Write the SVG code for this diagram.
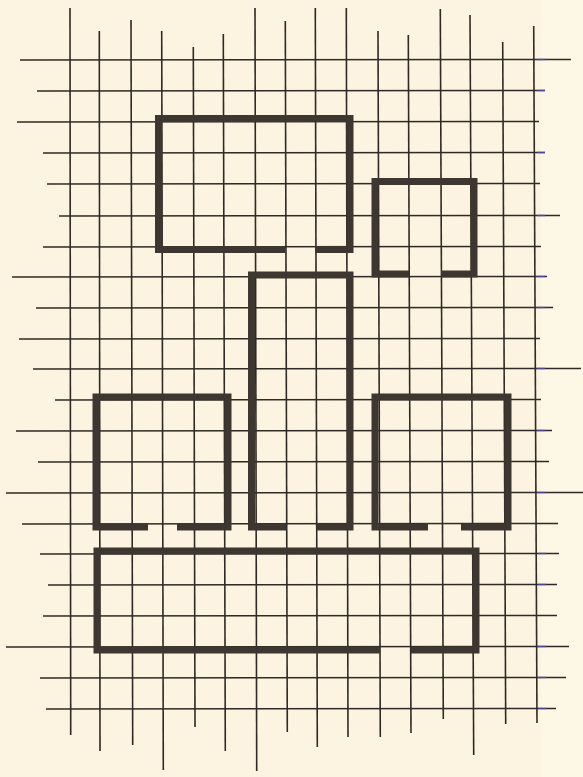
<svg xmlns="http://www.w3.org/2000/svg" width="583" height="777" viewBox="0 0 583 777">
<style>
.g{stroke:#2f2a25;stroke-width:1.6;fill:none;stroke-linecap:butt}
.b{stroke:#5a50c8;stroke-width:1.6;fill:none}
.w{stroke:#3e3631;stroke-width:7;fill:none;stroke-linecap:butt;stroke-linejoin:miter}
</style>
<rect x="0" y="0" width="583" height="777" fill="#fcf4e0"/>
<rect x="541" y="0" width="42" height="777" fill="#fdf8e6"/>
<g id="grid">
<g id="vertical-lines">
<line class="g" x1="70" y1="8" x2="70.7" y2="735"/>
<line class="g" x1="99.3" y1="31" x2="100" y2="751"/>
<line class="g" x1="131" y1="20" x2="132.7" y2="745"/>
<line class="g" x1="161.7" y1="31" x2="163.3" y2="770"/>
<line class="g" x1="193.3" y1="47" x2="195" y2="727"/>
<line class="g" x1="223.3" y1="34" x2="225.3" y2="751"/>
<line class="g" x1="255" y1="8" x2="256.7" y2="771"/>
<line class="g" x1="285.3" y1="21" x2="287.3" y2="732"/>
<line class="g" x1="315.3" y1="8" x2="317.3" y2="747"/>
<line class="g" x1="346.3" y1="8" x2="348" y2="737"/>
<line class="g" x1="378" y1="31" x2="380.3" y2="737"/>
<line class="g" x1="408.3" y1="35" x2="411" y2="733"/>
<line class="g" x1="440.3" y1="9" x2="443.3" y2="719"/>
<line class="g" x1="470" y1="15" x2="473.7" y2="755"/>
<line class="g" x1="502.7" y1="42" x2="505.7" y2="724"/>
<line class="g" x1="533.7" y1="26" x2="537" y2="723"/>
</g>
<g id="horizontal-lines">
<line class="g" x1="20" y1="60" x2="571" y2="59.5"/>
<line class="g" x1="37" y1="91" x2="545" y2="90.5"/>
<line class="g" x1="17" y1="122" x2="539" y2="121.5"/>
<line class="g" x1="43" y1="153" x2="545" y2="152.5"/>
<line class="g" x1="47" y1="184" x2="540" y2="183.5"/>
<line class="g" x1="59" y1="216" x2="560" y2="215.5"/>
<line class="g" x1="43" y1="247" x2="541" y2="246.5"/>
<line class="g" x1="12" y1="277" x2="547" y2="276.5"/>
<line class="g" x1="36" y1="308" x2="553" y2="307.5"/>
<line class="g" x1="19" y1="339" x2="540" y2="338.5"/>
<line class="g" x1="33" y1="369" x2="581" y2="368.5"/>
<line class="g" x1="55" y1="400" x2="541" y2="399.5"/>
<line class="g" x1="16" y1="431" x2="552" y2="430.5"/>
<line class="g" x1="38" y1="462" x2="549" y2="461.5"/>
<line class="g" x1="6" y1="493" x2="583" y2="492.5"/>
<line class="g" x1="22" y1="524" x2="558" y2="523.5"/>
<line class="g" x1="40" y1="554" x2="559" y2="553.5"/>
<line class="g" x1="48" y1="585" x2="557" y2="584.5"/>
<line class="g" x1="43" y1="616" x2="557" y2="615.5"/>
<line class="g" x1="6" y1="647" x2="569" y2="646.5"/>
<line class="g" x1="40" y1="678" x2="566" y2="677.5"/>
<line class="g" x1="46" y1="709" x2="556" y2="708.5"/>
</g>
<g id="edge-tint" opacity="0.7">
<line class="b" x1="537" y1="59.5" x2="545" y2="59.5"/>
<line class="b" x1="537" y1="90.5" x2="545" y2="90.5"/>
<line class="b" x1="537" y1="152.5" x2="545" y2="152.5"/>
<line class="b" x1="537" y1="215.5" x2="545" y2="215.5"/>
<line class="b" x1="537" y1="276.5" x2="545" y2="276.5"/>
<line class="b" x1="537" y1="307.5" x2="545" y2="307.5"/>
<line class="b" x1="537" y1="368.5" x2="545" y2="368.5"/>
<line class="b" x1="537" y1="430.5" x2="545" y2="430.5"/>
<line class="b" x1="537" y1="492.5" x2="545" y2="492.5"/>
<line class="b" x1="538" y1="553.5" x2="546" y2="553.5"/>
<line class="b" x1="538" y1="584.5" x2="546" y2="584.5"/>
<line class="b" x1="538" y1="646.5" x2="546" y2="646.5"/>
<line class="b" x1="538" y1="677.5" x2="546" y2="677.5"/>
<line class="b" x1="538" y1="708.5" x2="546" y2="708.5"/>
</g>
</g>
<g id="room-top-left"><path class="w" d="M285 249.5 H158.5 V118.5 H350 V249.5 H315"/></g>
<g id="room-top-right"><path class="w" d="M409 274 H375 V181.5 H474 V274 H441"/></g>
<g id="room-tall-middle"><path class="w" d="M286 527 H251.5 V275 H350 V527 H317"/></g>
<g id="room-middle-left"><path class="w" d="M148 527 H96 V397 H228 V527 H177"/></g>
<g id="room-middle-right"><path class="w" d="M428 527 H375 V397 H508 V527 H461"/></g>
<g id="room-bottom"><path class="w" d="M380 650 H97 V551 H476 V650 H411"/></g>
</svg>
